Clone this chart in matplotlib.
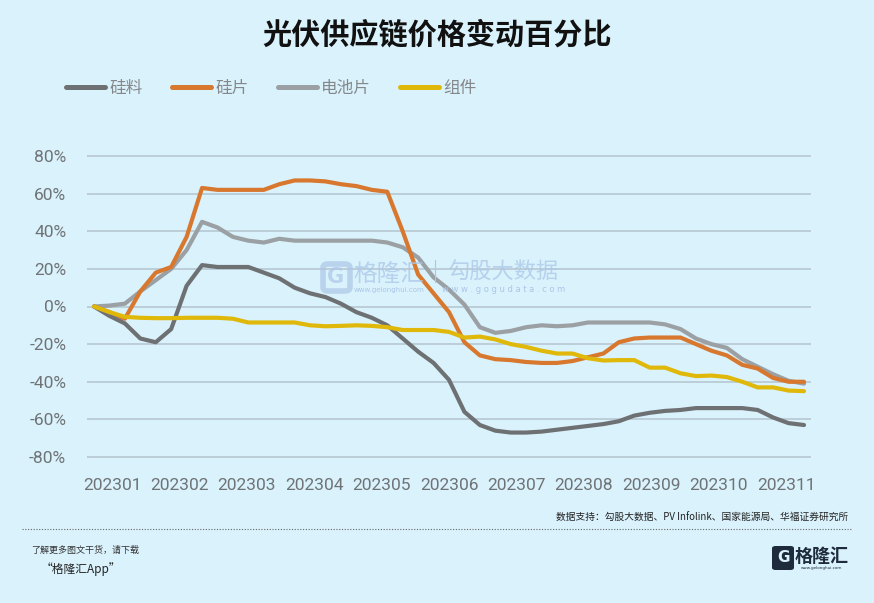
import matplotlib
matplotlib.use("Agg")
import matplotlib.pyplot as plt
from matplotlib import font_manager
from matplotlib.patches import FancyBboxPatch
from matplotlib.lines import Line2D
import numpy as np

# ---------------- data (weekly, % change vs start) ----------------
months = ["202301", "202302", "202303", "202304", "202305", "202306",
          "202307", "202308", "202309", "202310", "202311"]
yticks = [80, 60, 40, 20, 0, -20, -40, -60, -80]
series_names = ["硅料", "硅片", "电池片", "组件"]

polysilicon = [0, -5, -9, -17, -19, -12, 11, 22, 21, 21, 21, 18, 15, 10, 7, 5,
               1.5, -3, -6, -10, -17, -24, -30, -39, -56, -63, -66, -67, -67,
               -66.5, -65.5, -64.5, -63.5, -62.5, -61, -58, -56.5, -55.5, -55,
               -54, -54, -54, -54, -55, -59, -62, -63]
wafer = [0, -3, -6.5, 8, 18, 21, 37, 63, 62, 62, 62, 62, 65, 67, 67, 66.5,
         65, 64, 62, 61, 40, 17, 7, -3, -19, -26, -28, -28.5, -29.5, -30, -30,
         -29, -27, -25, -19, -17, -16.5, -16.5, -16.5, -20, -23.5, -26, -31,
         -33, -38, -40, -40]
cell = [0, 0.5, 1.5, 8, 14, 20, 30, 45, 42, 37, 35, 34, 36, 35, 35, 35, 35,
        35, 35, 34, 31.5, 26, 15.5, 9, 1, -11, -14, -13, -11, -10, -10.5, -10,
        -8.5, -8.5, -8.5, -8.5, -8.5, -9.5, -12, -17, -20, -22, -28, -32, -36,
        -39.5, -41]
module = [0, -3, -5.5, -6, -6.2, -6.2, -6, -6, -6, -6.5, -8.5, -8.5, -8.5,
          -8.5, -10, -10.5, -10.3, -10, -10.3, -11, -12.5, -12.5, -12.5, -13.5,
          -16.5, -16, -17.5, -20, -21.5, -23.5, -25, -25, -27.5, -28.7, -28.5,
          -28.5, -32.5, -32.5, -35.5, -37, -36.7, -37.5, -40, -43, -43, -44.7,
          -45]

colors = ["#6e7173", "#d8782f", "#9aa0a3", "#dfb80a"]

# ---------------- fonts ----------------
avail = {f.name for f in font_manager.fontManager.ttflist}
num_font = "Roboto" if "Roboto" in avail else "DejaVu Sans"
cjk = ["Noto Sans CJK SC", "DejaVu Sans"]
plt.rcParams["font.family"] = cjk

BG = "#daf2fc"
W, H = 874, 603
fig = plt.figure(figsize=(W / 100, H / 100), dpi=100, facecolor=BG)

# axes: gridlines span x 87..811 px, y 80% at 156 px, -80% at 457 px
ppu = (457 - 156) / 160.0
top_px = 156 - 1 * ppu
bot_px = 457 + 1 * ppu
ax = fig.add_axes([87 / W, 1 - bot_px / H, (811 - 87) / W, (bot_px - top_px) / H])
ax.set_facecolor(BG)

n = len(polysilicon)
x = np.arange(n)
step_px = (804 - 94) / (n - 1)
ax.set_xlim(-(94 - 87) / step_px, (n - 1) + (811 - 804) / step_px)
ax.set_ylim(-81, 81)

for vals, c, name, z in zip([polysilicon, wafer, cell, module], colors,
                            series_names, [4, 3, 2, 5]):
    ax.plot(x, vals, color=c, lw=3.0, solid_joinstyle="round",
            solid_capstyle="round", zorder=z, label=name)

# gridlines
ax.set_yticks(yticks)
ax.set_yticklabels([f"{v}%" for v in yticks], fontsize=12.5, color="#6f7376",
                   family=num_font)
ax.yaxis.grid(True, color="#bccfd9", lw=1.4)
ax.set_axisbelow(True)
first = (112 - 94) / step_px
last = (786 - 94) / step_px
ax.set_xticks(np.linspace(first, last, len(months)))
ax.set_xticklabels(months, fontsize=12.5, color="#6f7376", family=num_font)
ax.tick_params(axis="both", length=0)
ax.tick_params(axis="y", pad=15)
ax.tick_params(axis="x", pad=14)
for s in ax.spines.values():
    s.set_visible(False)

# title
fig.text(437 / W, 1 - 35 / H, "光伏供应链价格变动百分比", ha="center", va="center",
         fontsize=21, fontweight="bold", color="#111111")

# legend
handles = [Line2D([0], [0], color=c, lw=3.6, solid_capstyle="round") for c in colors]
leg = fig.legend(handles, series_names, loc="center left",
                 bbox_to_anchor=(66 / W, 1 - 88 / H), ncol=4, frameon=False,
                 fontsize=12, handlelength=2.35, handletextpad=0.25,
                 columnspacing=1.75, borderaxespad=0, borderpad=0)
for t in leg.get_texts():
    t.set_color("#85888b")

# watermarks
wm = "#abc6e8"
logo = FancyBboxPatch((323 / W, 1 - 291 / H), 27 / W, 27 / H,
                      boxstyle="round,pad=0,rounding_size=0.006",
                      transform=fig.transFigure, fc="none", ec=wm, lw=4,
                      alpha=0.7, zorder=6)
fig.patches.append(logo)
fig.text(336 / W, 1 - 277 / H, "G", ha="center", va="center", fontsize=15,
         fontweight="bold", color=wm, alpha=0.7, family="DejaVu Sans")
fig.text(389 / W, 1 - 274 / H, "格隆汇", ha="center", va="center", fontsize=17,
         color=wm, alpha=0.75)
fig.text(389 / W, 1 - 290 / H, "www.gelonghui.com", ha="center", va="center",
         fontsize=5, color=wm, family="DejaVu Sans")
fig.add_artist(Line2D([435 / W, 435 / W], [1 - 260 / H, 1 - 282 / H],
                      transform=fig.transFigure, color=wm, lw=0.8))
fig.text(503 / W, 1 - 272 / H, "勾股大数据", ha="center", va="center", fontsize=16,
         color=wm, alpha=0.75)
fig.text(504 / W, 1 - 290 / H, "w w w . g o g u d a t a . c o m", ha="center",
         va="center", fontsize=6, color=wm, family="DejaVu Sans")

# footer
fig.text(848 / W, 1 - 518 / H,
         "数据支持：勾股大数据、PV Infolink、国家能源局、华福证券研究所",
         ha="right", va="center", fontsize=7, color="#222222")
fig.add_artist(Line2D([22 / W, 852 / W], [1 - 529 / H, 1 - 529 / H],
                      transform=fig.transFigure, color="#666666", lw=0.8,
                      ls=(0, (1, 1.5))))
fig.text(31 / W, 1 - 550 / H, "了解更多图文干货，请下载", ha="left", va="center",
         fontsize=6.5, color="#333333", style="italic")
fig.text(41 / W, 1 - 569 / H, "“格隆汇App”", ha="left", va="center",
         fontsize=8.5, color="#222222", style="italic")

navy = "#1d2b3c"
fig.patches.append(FancyBboxPatch((772 / W, 1 - 570 / H), 22 / W, 24 / H,
                                  boxstyle="round,pad=0,rounding_size=0.004",
                                  transform=fig.transFigure, fc=navy, ec="none"))
fig.text(783 / W, 1 - 558 / H, "G", ha="center", va="center", fontsize=11,
         fontweight="bold", color=BG, family="DejaVu Sans")
fig.text(822 / W, 1 - 556 / H, "格隆汇", ha="center", va="center", fontsize=13,
         fontweight="bold", color=navy)
fig.text(822 / W, 1 - 568 / H, "www.gelonghui.com", ha="center", va="center",
         fontsize=3, color=navy, family="DejaVu Sans")

fig.savefig("out.png", dpi=100, facecolor=BG)
